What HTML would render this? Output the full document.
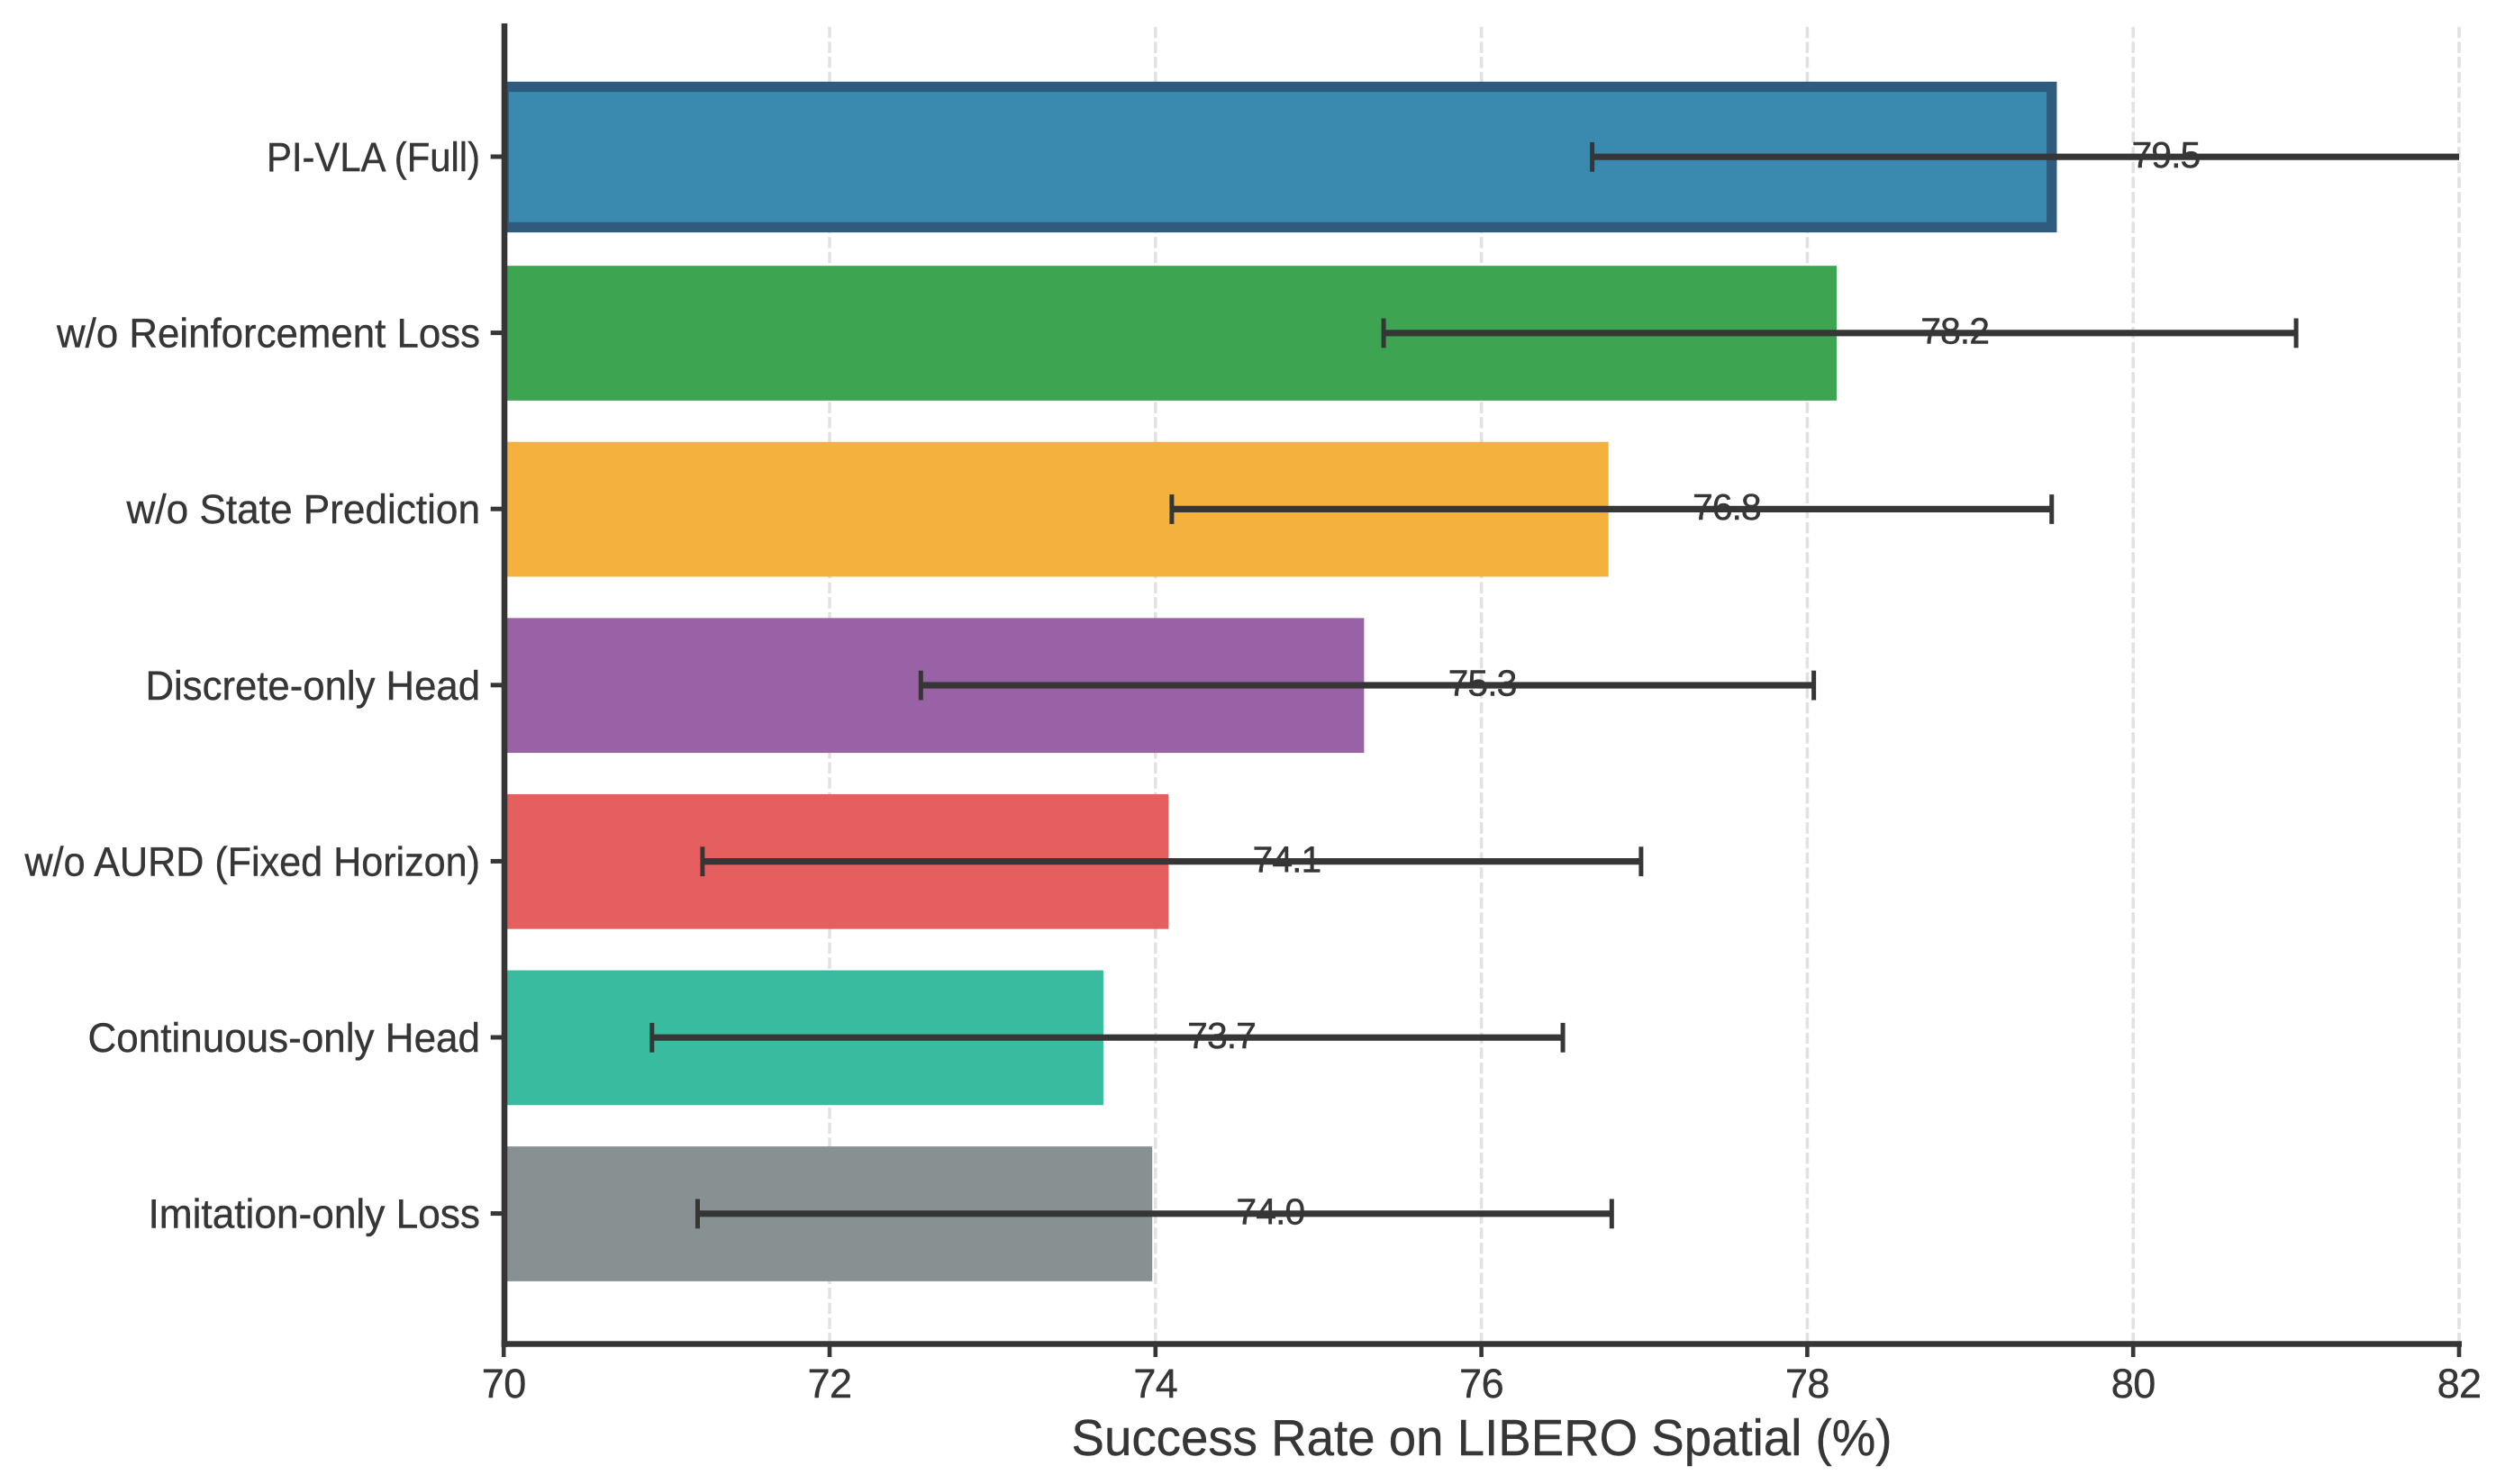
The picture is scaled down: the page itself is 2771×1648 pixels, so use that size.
<!DOCTYPE html>
<html lang="en">
<head>
<meta charset="utf-8">
<title>Success Rate on LIBERO Spatial</title>
<style>
html,body{margin:0;padding:0;background:#fff;}
svg{display:block;}
text{font-family:"Liberation Sans",Arial,sans-serif;fill:#373636;stroke:#373636;stroke-width:0.4px;}
</style>
</head>
<body>
<svg id="chart" xmlns="http://www.w3.org/2000/svg" width="2771" height="1648" viewBox="0 0 2771 1648">
<defs><clipPath id="plot-clip"><rect x="559.5" y="26" width="2170.5" height="1466.5"></rect></clipPath></defs>
<rect x="0" y="0" width="2771" height="1648" fill="#ffffff"></rect>
<g id="grid"></g>
<g id="bars" clip-path="url(#plot-clip)"></g>
<g id="errors" clip-path="url(#plot-clip)"></g>
<g id="value-labels"></g>
<g id="axes"></g>
<text x="1645" y="1616" font-size="57" text-anchor="middle" textLength="911" lengthAdjust="spacingAndGlyphs">Success Rate on LIBERO Spatial (%)</text>
</svg>
<script>
const categories = ["PI-VLA (Full)", "w/o Reinforcement Loss", "w/o State Prediction", "Discrete-only Head", "w/o AURD (Fixed Horizon)", "Continuous-only Head", "Imitation-only Loss"];
const barValues = [79.5, 78.18, 76.78, 75.28, 74.08, 73.68, 73.98];
const errLow = [76.68, 75.4, 74.1, 72.56, 71.22, 70.91, 71.19];
const errHigh = [82.3, 81.0, 79.5, 78.04, 76.98, 76.5, 76.8];
const printedValues = ["79.5", "78.2", "76.8", "75.3", "74.1", "73.7", "74.0"];
const barColors = ["#3a8ab0", "#3da452", "#f5b13d", "#9a62a6", "#e55f5e", "#38bb9e", "#879192"];
const xTicks = [70, 72, 74, 76, 78, 80, 82];

// Layout only: rendered label widths, used to match the reference's font metrics.
const labelLayoutWidths = {"PI-VLA (Full)": 237, "w/o Reinforcement Loss": 470, "w/o State Prediction": 392.5, "Discrete-only Head": 371.5, "w/o AURD (Fixed Horizon)": 505.5, "Continuous-only Head": 435.5, "Imitation-only Loss": 368.5};

const NS = "http://www.w3.org/2000/svg";
const ink = "#373636";
const xMin = xTicks[0], xMax = xTicks[xTicks.length - 1];
const plotLeft = 559.2, plotRight = 2730, plotTop = 26, plotBottom = 1492.5;
const rowStart = 174.4, rowStep = 195.6, barHeight = 149.7;
function xScale(v) { return plotLeft + (v - xMin) * (plotRight - plotLeft) / (xMax - xMin); }
function yScale(i) { return rowStart + i * rowStep; }
function make(tag, attrs, parent) {
  const el = document.createElementNS(NS, tag);
  for (const k in attrs) el.setAttribute(k, attrs[k]);
  parent.appendChild(el);
  return el;
}
const gridG = document.getElementById("grid");
const barsG = document.getElementById("bars");
const errG = document.getElementById("errors");
const labelsG = document.getElementById("value-labels");
const axesG = document.getElementById("axes");

xTicks.forEach(function (t) {
  const x = xScale(t);
  const g = make("line", {x1: x, x2: x, y1: plotBottom, y2: plotTop, stroke: "#e2e2e2", "stroke-width": 3.6, "stroke-dasharray": "12.5 4.17"}, gridG);
  
  
  const tick = make("line", {x1: x, x2: x, y1: plotBottom, y2: plotBottom + 14.5, stroke: ink, "stroke-width": 4.6}, axesG);
  
  
  const lab = make("text", {x: x, y: 1552, "font-size": 45, "text-anchor": "middle", "letter-spacing": "-0.6"}, axesG);
  lab.textContent = String(t);
  
  
});

categories.forEach(function (name, i) {
  const y = yScale(i), xEnd = xScale(barValues[i]);
  const bar = make("rect", {x: plotLeft, y: y - barHeight / 2, width: xEnd - plotLeft, height: barHeight, fill: barColors[i]}, barsG);
  
  
  if (i === 0) {
    bar.setAttribute("y", y - 78);
    bar.setAttribute("height", 156);
    bar.setAttribute("stroke", "#2f5b7e");
    bar.setAttribute("stroke-width", 11.4);
  }
  const low = xScale(errLow[i]), high = xScale(errHigh[i]);
  const line = make("line", {x1: low, x2: high, y1: y - 0.2, y2: y - 0.2, stroke: ink, "stroke-width": 7.2}, errG);
  
  
  [low, high].forEach(function (cx) {
    const cap = make("line", {x1: cx, x2: cx, y1: y - 16.5, y2: y + 16.3, stroke: ink, "stroke-width": 5}, errG);
    
    
  });
  const gap = i === 0 ? 0.70 : 0.725;
  const val = make("text", {x: xScale(barValues[i] + gap), y: y + 11.5, "font-size": 41, "text-anchor": "middle", "letter-spacing": "-1"}, labelsG);
  val.textContent = printedValues[i];
  
  
  const tick = make("line", {x1: plotLeft - 14.5, x2: plotLeft, y1: y - 0.4, y2: y - 0.4, stroke: ink, "stroke-width": 5}, axesG);
  
  
  const lab = make("text", {x: 533, y: y + 15.6, "font-size": 45, "text-anchor": "end", textLength: labelLayoutWidths[name], lengthAdjust: "spacingAndGlyphs"}, axesG);
  lab.textContent = name;
  
  
});

const leftSpine = make("line", {x1: 560, x2: 560, y1: plotTop, y2: plotBottom + 3.4, stroke: ink, "stroke-width": 6.6}, axesG);


const bottomSpine = make("line", {x1: 556.7, x2: 2733, y1: plotBottom, y2: plotBottom, stroke: ink, "stroke-width": 6.6}, axesG);


</script>
</body>
</html>
